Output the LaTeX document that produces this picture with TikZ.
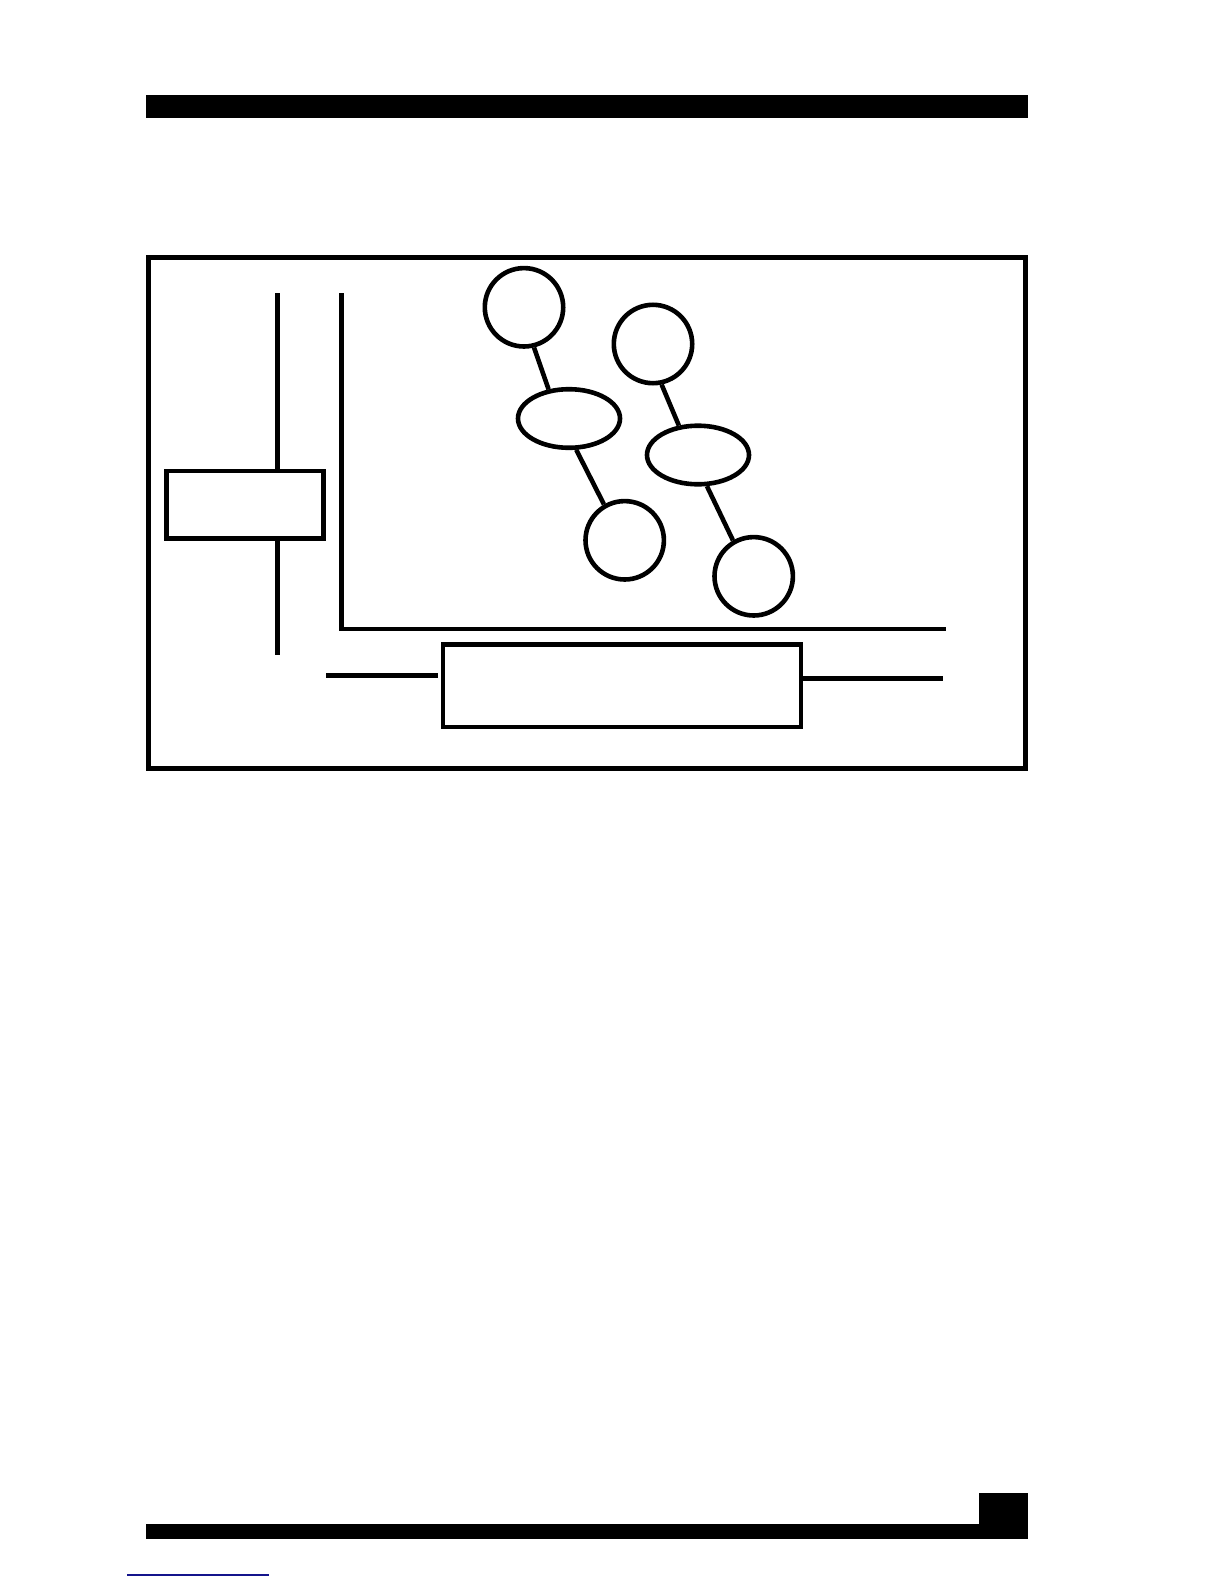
\documentclass[tikz,border=0pt]{standalone}
\usetikzlibrary{shapes.geometric}
\definecolor{linkblue}{RGB}{20,20,140}
\begin{document}
\begin{tikzpicture}[x=0.5pt, y=-0.5pt, line width=2.3pt,
	ball/.style={circle, draw, inner sep=0pt, minimum size=39.2pt},
	disc/.style={ellipse, draw, inner sep=0pt, minimum width=51pt, minimum height=29.3pt},
	slab/.style={rectangle, draw, inner sep=0pt}]
%		\draw[help lines] (0,0) grid (1224,1584);
		\useasboundingbox (0,0) rectangle (1224,1584);
		\fill (146,95) rectangle (1028,117.7);
		\fill (146,1524) rectangle (1028,1539);
		\fill (979,1493) rectangle (1028,1539);
		\draw[linkblue, line width=0.6pt] (127,1575) -- (269,1575);
		\draw[line width=2.5pt] (148.5,257.5) rectangle (1025.6,768);
		\node[ball] (1) at (524,307.3) {};
		\node[disc] (2) at (569,418.5) {};
		\node[ball] (3) at (624.7,540.3) {};
		\node[ball] (4) at (653,344) {};
		\node[disc] (5) at (698,455) {};
		\node[ball] (6) at (753.7,576.3) {};
		\draw (1.-76) -- (2.125);
		\draw (2.-77) -- (3.120);
		\draw (4.-78) -- (5.123);
		\draw (5.-74) -- (6.120);
		\node[slab, minimum width=78.5pt, minimum height=33.75pt] (box) at (245,504.75) {};
		\coordinate (top) at (277.3,293.3);
		\coordinate (bot) at (277.3,655);
		\draw (top) -- (top |- box.north);
		\draw (box.south -| bot) -- (bot);
		\coordinate (lt) at (341.7,293.3);
		\coordinate (lr) at (946,629);
		\draw (lt) |- (lr);
		\node[slab, minimum width=179pt, minimum height=41.25pt] (bigbox) at (622,685.75) {};
		\coordinate (wl) at (326,675.3);
		\coordinate (wr) at (942.7,678.3);
		\draw (wl) -- ([xshift=-1.5pt]wl -| bigbox.west);
		\draw (bigbox.east |- wr) -- (wr);
	\end{tikzpicture}
\end{document}
